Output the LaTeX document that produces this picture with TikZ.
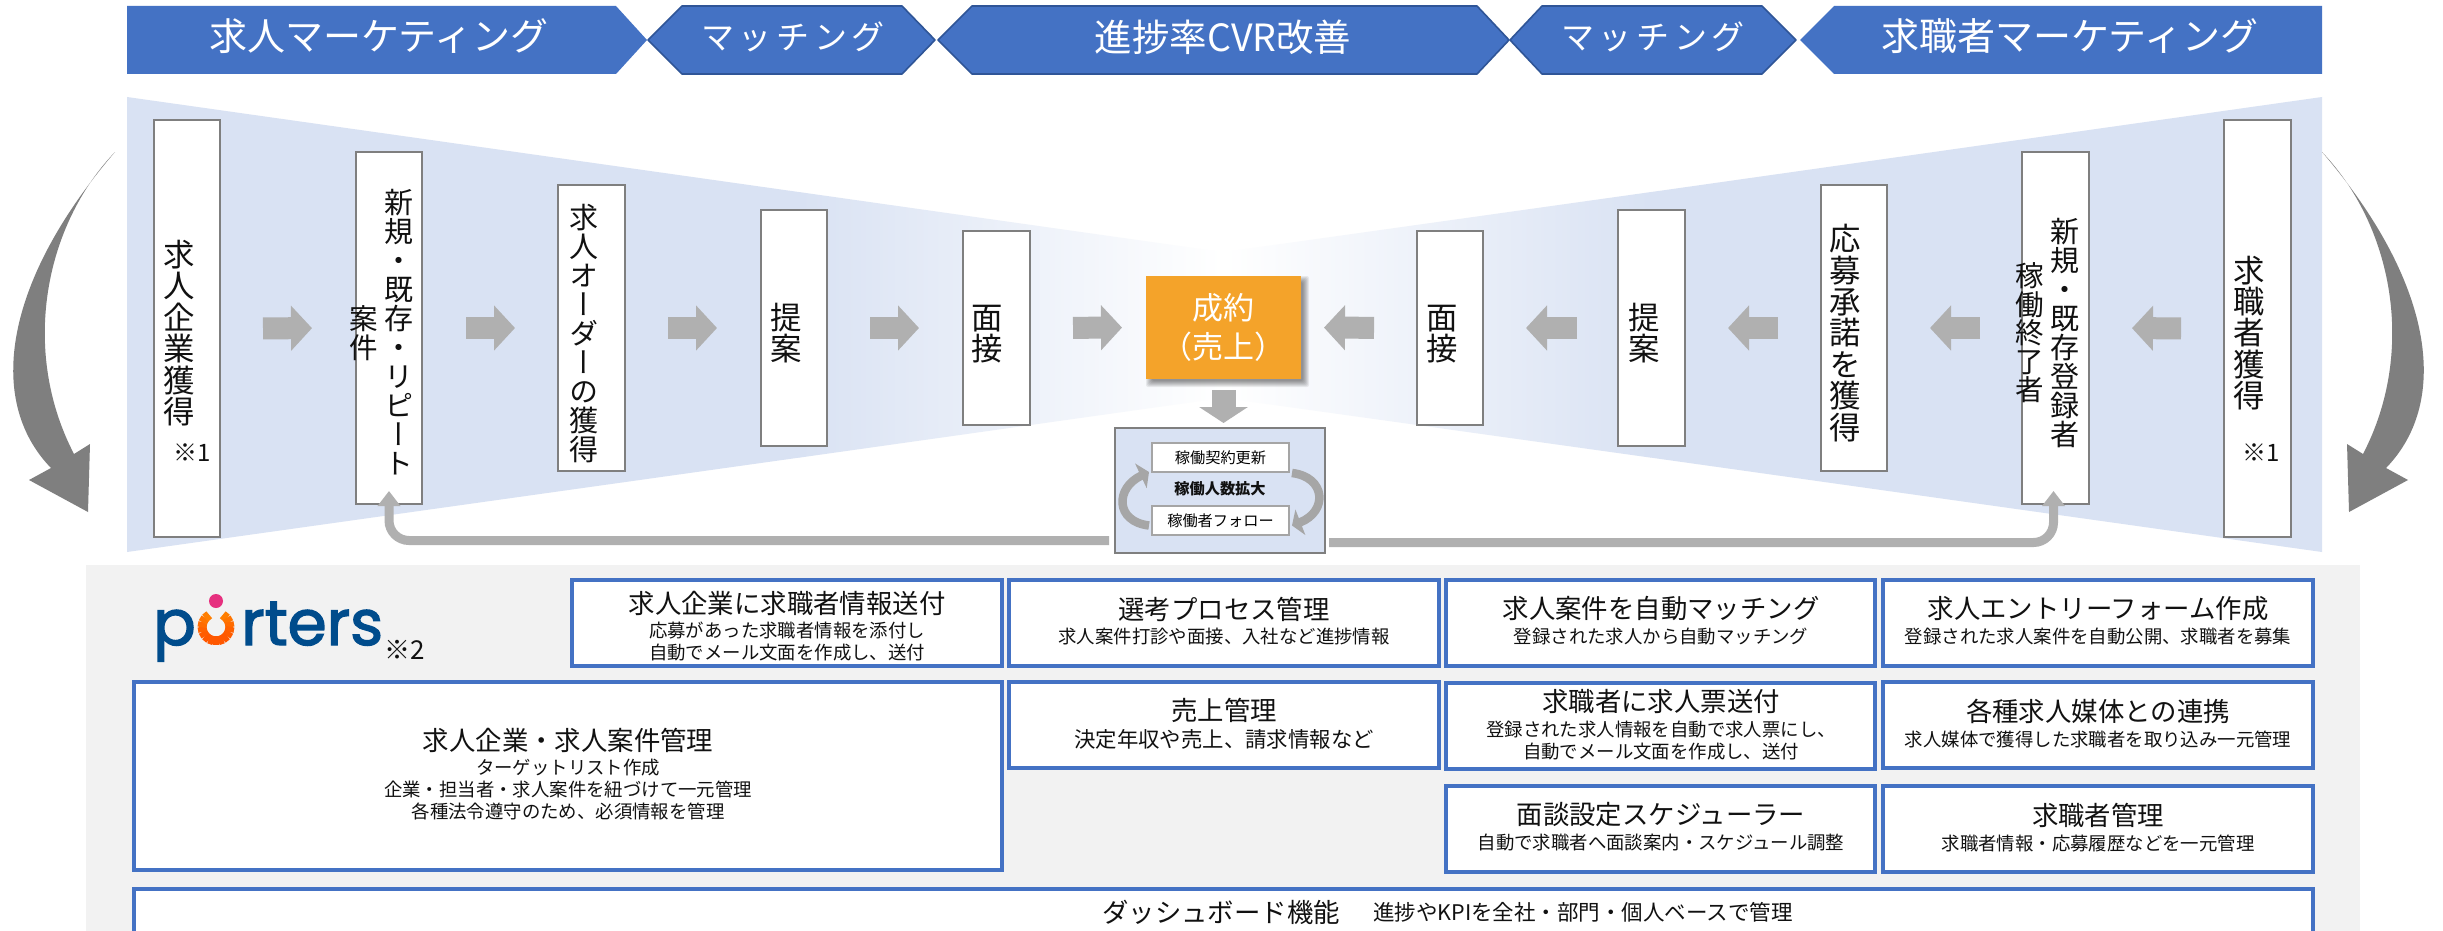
\documentclass[tikz,border=0pt]{standalone}
\usepackage{fontspec}
\usetikzlibrary{arrows.meta,calc}
\setmainfont{Noto Sans CJK JP}
\newfontfamily\tatefont[RawFeature=+vert]{Noto Sans CJK JP}
\newfontfamily\logofont[FakeBold=2.2]{Poppins}
\definecolor{bannerblue}{HTML}{4472C4}
\definecolor{bannerline}{HTML}{2F5597}
\definecolor{funnelblue}{HTML}{D9E2F3}
\definecolor{panelgray}{HTML}{F2F2F2}
\definecolor{arrowgray}{HTML}{B0B0B0}
\definecolor{loopgray}{HTML}{A6A6A6}
\definecolor{bigarrow}{HTML}{7F7F7F}
\definecolor{boxline}{HTML}{7F7F7F}
\definecolor{dealorange}{HTML}{F4A32A}
\definecolor{logoblue}{HTML}{004C8C}
\definecolor{logopink}{HTML}{E6307F}
\definecolor{inktext}{HTML}{111111}
\makeatletter
\newcommand\tate[2]{{\tatefont\fontsize{#1pt}{#1pt}\selectfont
  \vbox{\offinterlineskip\@tfor\tc:=#2\do{%
    \hbox to #1pt{\hss\rule[-.12\dimexpr#1pt\relax]{0pt}{#1pt}\smash{\tc}\hss}}}}}
\makeatother
\newcommand\fs[1]{\fontsize{#1pt}{#1pt}\selectfont}
\newcommand\fsl[2]{\fontsize{#1pt}{#2pt}\selectfont}
\tikzset{
  banner/.style={fill=bannerblue,draw=none},
  hexband/.style={fill=bannerblue,draw=bannerline,line width=1.6pt,line join=round},
  bannertext/.style={text=white,inner sep=0pt,font=\fs{38}},
  tatebox/.style={draw=boxline,fill=white,line width=1.6pt,inner sep=0pt,outer sep=0pt},
  tatelabel/.style={inner sep=0pt,text=inktext},
  blockarrow/.style={draw=arrowgray,line width=22pt,-{Triangle[length=21pt,width=44pt]}},
  returnarrow/.style={draw=arrowgray,line width=9pt,rounded corners=20pt,-{Triangle[length=15pt,width=22pt]}},
  looparrow/.style={draw=loopgray,line width=8.5pt,-{Triangle[length=9pt,width=27pt]}},
  featurebox/.style={draw=bannerblue,fill=white,line width=4pt,inner sep=0pt,outer sep=0pt},
  ftitle/.style={inner sep=0pt,text=inktext,font=\fs{26.4}},
  fsub/.style={inner sep=0pt,text=inktext,font=\fs{18.4},align=center},
  fsubl/.style={inner sep=0pt,text=inktext,font=\fsl{18.4}{22},align=center},
  loopitem/.style={draw=boxline!70,fill=white,line width=1.2pt,inner sep=0pt,outer sep=0pt,font=\fs{15.2},text=inktext},
}
% name, style, x1,y1,x2,y2
\newcommand\rectnode[6]{%
  \pgfmathsetmacro\rw{#5-#3}\pgfmathsetmacro\rh{#6-#4}%
  \pgfmathsetmacro\rx{(#3+#5)/2}\pgfmathsetmacro\ry{(#4+#6)/2}%
  \node[#2,minimum width=\rw pt,minimum height=\rh pt] (#1) at (\rx,\ry) {};}
\begin{document}
\begin{tikzpicture}[x=1pt,y=-1pt]
\path[use as bounding box,clip] (0,0) rectangle (2443,931);
\fill[white] (0,0) rectangle (2443,931);
% banner
\path[banner] (127,6) -- (616,6) -- (647,40) -- (616,74) -- (127,74) -- cycle;
\path[hexband] (648,40) -- (682,6) -- (902,6) -- (935,40) -- (902,74) -- (682,74) -- cycle;
\path[hexband] (938,40) -- (972,6) -- (1477,6) -- (1509,40) -- (1477,74) -- (972,74) -- cycle;
\path[hexband] (1510,40) -- (1542,6) -- (1762,6) -- (1796,40) -- (1762,74) -- (1542,74) -- cycle;
\path[banner] (1800,40) -- (1834,6) -- (2322,6) -- (2322,74) -- (1834,74) -- cycle;
\node[bannertext] (t1) at (379,36) {求人マーケティング};
\node[bannertext,font=\fs{33}\addfontfeature{LetterSpace=14}] (t2) at (793,37) {マッチング};
\node[bannertext,font=\fs{37.5}] (t3) at (1223,37) {進捗率CVR改善};
\node[bannertext,font=\fs{33}\addfontfeature{LetterSpace=14}] (t4) at (1653,37) {マッチング};
\node[bannertext] (t5) at (2070,36) {求職者マーケティング};
% funnels
\fill[funnelblue] (127,97) -- (800,192.2) -- (800,457.5) -- (127,552) -- cycle;
\shade[left color=funnelblue,right color=white] (799.5,192.1) -- (1222,252) -- (1222,398) -- (799.5,457.6) -- cycle;
\fill[funnelblue] (2322,97) -- (1650,192.2) -- (1650,457.5) -- (2322,552) -- cycle;
\shade[right color=funnelblue,left color=white] (1650.5,192.1) -- (1224,252) -- (1224,398) -- (1650.5,457.6) -- cycle;
% big side arrows
\fill[bigarrow] (115,152) .. controls (5,280) and (-15,400) .. (51,468) -- (29,480) -- (88,512) -- (90,444) -- (74,454) .. controls (20,350) and (45,225) .. (115,152) -- cycle;
\begin{scope}[shift={(2437,0)},xscale=-1]
\fill[bigarrow] (115,152) .. controls (5,280) and (-15,400) .. (51,468) -- (29,480) -- (88,512) -- (90,444) -- (74,454) .. controls (20,350) and (45,225) .. (115,152) -- cycle;
\end{scope}
% orange shadow + node
\foreach \d in {0,1,...,6}{\fill[black,opacity=.07,rounded corners=2pt] (1146+\d,276+\d) rectangle (1301+8-\d,379+8-\d);}
\node[fill=dealorange,minimum width=155pt,minimum height=103pt,inner sep=0pt,outer sep=0pt,align=center,text=white,font=\fsl{31}{39}] (deal) at (1223.5,327.5) {成約\\（売上）};
% left boxes
\rectnode{l1}{tatebox}{154}{120}{220}{537}
\rectnode{l2}{tatebox}{356}{152}{422}{504}
\rectnode{l3}{tatebox}{558}{185}{625}{471}
\rectnode{l4}{tatebox}{761}{210}{827}{446}
\rectnode{l5}{tatebox}{963}{231}{1030}{425}
% right boxes
\rectnode{r5}{tatebox}{1417}{231}{1483}{425}
\rectnode{r4}{tatebox}{1618}{210}{1685}{446}
\rectnode{r3}{tatebox}{1821}{185}{1887}{471}
\rectnode{r2}{tatebox}{2022}{152}{2089}{504}
\rectnode{r1}{tatebox}{2224}{120}{2291}{537}
% vertical labels
\node[tatelabel] (l1a) at (179,333) {\tate{31.4}{求人企業獲得}};
\node[tatelabel,font=\fs{24}] (l1b) at (192,453) {※1};
\node[tatelabel] (l2a) at (399,333) {\tate{29}{新規・既存・リピート}};
\node[tatelabel] (l2b) at (364,333) {\tate{28.5}{案件}};
\node[tatelabel] (l3a) at (584,333) {\tate{29}{求人オーダーの獲得}};
\node[tatelabel] (l4a) at (786,333) {\tate{31.4}{提案}};
\node[tatelabel] (l5a) at (987,333) {\tate{31.4}{面接}};
\node[tatelabel] (r5a) at (1442,333) {\tate{31.4}{面接}};
\node[tatelabel] (r4a) at (1644,333) {\tate{31.4}{提案}};
\node[tatelabel] (r3a) at (1845.5,333) {\tate{31.4}{応募承諾を獲得}};
\node[tatelabel] (r2a) at (2065,333) {\tate{29}{新規・既存登録者}};
\node[tatelabel] (r2b) at (2030,333) {\tate{28.5}{稼働終了者}};
\node[tatelabel] (r1a) at (2249,333) {\tate{31.4}{求職者獲得}};
\node[tatelabel,font=\fs{24}] (r1b) at (2261,453) {※1};
% block arrows
\draw[blockarrow,shorten <=43pt,shorten >=44pt] (l1.east) -- (l2.west);
\draw[blockarrow,shorten <=44pt,shorten >=43pt] (l2.east) -- (l3.west);
\draw[blockarrow,shorten <=43pt,shorten >=44pt] (l3.east) -- (l4.west);
\draw[blockarrow,shorten <=43pt,shorten >=44pt] (l4.east) -- (l5.west);
\draw[blockarrow,shorten <=43pt,shorten >=24pt] (l5.east) -- (deal.west);
\draw[blockarrow,shorten <=43pt,shorten >=43pt] (r1.west) -- (r2.east);
\draw[blockarrow,shorten <=42pt,shorten >=43pt] (r2.west) -- (r3.east);
\draw[blockarrow,shorten <=43pt,shorten >=43pt] (r3.west) -- (r4.east);
\draw[blockarrow,shorten <=41pt,shorten >=43pt] (r4.west) -- (r5.east);
\draw[blockarrow,shorten <=43pt,shorten >=23pt] (r5.west) -- (deal.east);
% loop
\rectnode{loop}{draw=boxline,fill=funnelblue,line width=1.2pt,inner sep=0pt,outer sep=0pt}{1115}{428}{1325}{553}
\draw[draw=arrowgray,line width=24pt,-{Triangle[length=16pt,width=48pt]},shorten <=11pt,shorten >=5pt] (deal.south) -- (deal.south |- loop.north);
\rectnode{lu}{loopitem}{1152}{443}{1289}{472}
\rectnode{lf}{loopitem}{1152}{506}{1289}{535}
\node[inner sep=0pt,font=\fs{15.2}] (lut) at (lu.center) {稼働契約更新};
\node[inner sep=0pt,font=\fs{15.2}] (lft) at (lf.center) {稼働者フォロー};
\node[inner sep=0pt,font=\fs{15.2}\bfseries,text=inktext] (lc) at (1220,489) {稼働人数拡大};
\draw[looparrow] ([xshift=-3pt,yshift=-5pt]lf.west) .. controls +(-34,-4) and +(-34,16) .. ([xshift=-3pt]lu.south west);
\draw[looparrow] ([xshift=3pt,yshift=-1pt]lu.south east) .. controls +(34,4) and +(36,-14) .. ([xshift=3pt,yshift=-5pt]lf.east);
% return arrows
\coordinate (lstart) at (1109,540.5);
\coordinate (rstart) at (1329,542.5);
\draw[returnarrow,shorten >=-13pt] (lstart) -| (l2.south);
\draw[returnarrow,shorten >=-13pt] (rstart) -| ([xshift=-2pt]r2.south);
% panel
\fill[panelgray] (86,565) rectangle (2360,940);
% logo
\node[inner sep=0pt,anchor=base west,text=logoblue,font=\logofont\fs{63}] (logop) at (153,645) {p};
\foreach \a/\c in {-60/65,-40/55,-20/45,0/35,20/30,40/25,60/25,80/25,100/25,120/25,140/30,160/35,180/45,200/55,220/65}{
  \draw[line width=9pt,color=orange!\c!red!75!yellow] (216,627)++(\a-1:14) arc[start angle=\a-1,end angle=\a+21,radius=14];}
\fill[logopink] (216,601) circle (7);
\node[inner sep=0pt,anchor=base west,text=logoblue,font=\logofont\fs{63}] (logor) at (241,645) {rters};
\node[inner sep=0pt,font=\fs{26},text=inktext] (logon) at (405,650) {※2};
% feature boxes
\rectnode{fa}{featurebox}{572}{580}{1002}{666}
\rectnode{fb}{featurebox}{1009}{580}{1439}{666}
\rectnode{fc}{featurebox}{1446}{580}{1875}{666}
\rectnode{fd}{featurebox}{1883}{580}{2313}{666}
\rectnode{fe}{featurebox}{134}{682}{1002}{870}
\rectnode{ff}{featurebox}{1009}{682}{1439}{768}
\rectnode{fg}{featurebox}{1446}{683}{1875}{769}
\rectnode{fh}{featurebox}{1883}{682}{2313}{768}
\rectnode{fi}{featurebox}{1446}{786}{1875}{872}
\rectnode{fj}{featurebox}{1883}{786}{2313}{872}
\rectnode{fk}{featurebox}{134}{889}{2313}{960}
% feature text
\node[ftitle] (fat) at (787,603) {求人企業に求職者情報送付};
\node[fsubl] (fas) at (787,642) {応募があった求職者情報を添付し\\自動でメール文面を作成し、送付};
\node[ftitle] (fbt) at (1224,609) {選考プロセス管理};
\node[fsub] (fbs) at (1224,637) {求人案件打診や面接、入社など進捗情報};
\node[ftitle] (fct) at (1661,609) {求人案件を自動マッチング};
\node[fsub] (fcs) at (1661,637) {登録された求人から自動マッチング};
\node[ftitle] (fdt) at (2098,609) {求人エントリーフォーム作成};
\node[fsub] (fds) at (2098,637) {登録された求人案件を自動公開、求職者を募集};
\node[ftitle] (fet) at (568,740) {求人企業・求人案件管理};
\node[fsubl] (fes) at (568,790) {ターゲットリスト作成\\企業・担当者・求人案件を紐づけて一元管理\\各種法令遵守のため、必須情報を管理};
\node[ftitle] (fft) at (1224,710) {売上管理};
\node[fsub,font=\fs{21.4}] (ffs) at (1224,739) {決定年収や売上、請求情報など};
\node[ftitle] (fgt) at (1661,701) {求職者に求人票送付};
\node[fsubl] (fgs) at (1661,740.5) {登録された求人情報を自動で求人票にし、\\自動でメール文面を作成し、送付};
\node[ftitle] (fht) at (2098,711) {各種求人媒体との連携};
\node[fsub] (fhs) at (2098,739) {求人媒体で獲得した求職者を取り込み一元管理};
\node[ftitle] (fit) at (1661,815) {面談設定スケジューラー};
\node[fsub] (fis) at (1661,843) {自動で求職者へ面談案内・スケジュール調整};
\node[ftitle] (fjt) at (2098,815) {求職者管理};
\node[fsub] (fjs) at (2098,843) {求職者情報・応募履歴などを一元管理};
\node[ftitle] (fkt) at (1221,912) {ダッシュボード機能};
\node[fsub,font=\fs{21.5}] (fks) at (1583,912) {進捗やKPIを全社・部門・個人ベースで管理};
\end{tikzpicture}
\end{document}
